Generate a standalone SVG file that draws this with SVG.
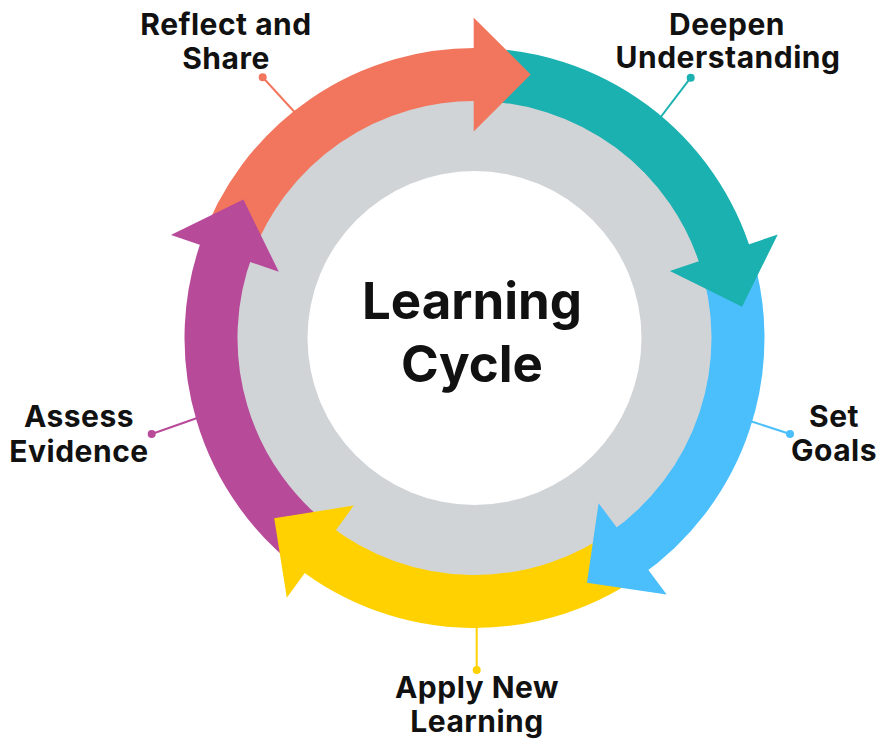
<svg xmlns="http://www.w3.org/2000/svg" width="888" height="753" viewBox="0 0 888 753">
<style>
.lbl{font-family:Inter,"Open Sans","Liberation Sans",sans-serif;font-weight:700;font-size:30px;letter-spacing:0.5px;fill:#111;text-anchor:middle}
.title{font-family:Inter,"Open Sans","Liberation Sans",sans-serif;font-weight:700;font-size:51px;fill:#111;text-anchor:middle}
.shaft{fill:none;stroke-width:53;stroke-linecap:butt}
.head{stroke-width:1.6;stroke-linejoin:miter}
.lead{stroke-width:2;fill:none}
</style>
<rect width="888" height="753" fill="#ffffff"/>
<g id="hub">
<circle cx="474.5" cy="338" r="240" fill="#D1D4D7"/>
<circle cx="474.5" cy="338" r="167" fill="#ffffff"/>
<text class="title" x="472" y="319">Learning</text>
<text class="title" x="472" y="382">Cycle</text>
</g>
<g id="connectors">
<line class="lead" x1="262.7" y1="77.3" x2="300" y2="118" stroke="#F1765D"/>
<circle cx="262.7" cy="77.3" r="4" fill="#F1765D"/>
<line class="lead" x1="690.7" y1="77.7" x2="660" y2="118" stroke="#1BB1B0"/>
<circle cx="690.7" cy="77.7" r="4" fill="#1BB1B0"/>
<line class="lead" x1="790" y1="434" x2="750" y2="421" stroke="#4BBFFB"/>
<circle cx="790" cy="434" r="4" fill="#4BBFFB"/>
<line class="lead" x1="476.7" y1="670" x2="476.7" y2="624" stroke="#FFD100"/>
<circle cx="476.7" cy="670" r="4" fill="#FFD100"/>
<line class="lead" x1="151.7" y1="434" x2="200" y2="417" stroke="#B84A9A"/>
<circle cx="151.7" cy="434" r="4" fill="#B84A9A"/>
</g>
<g id="reflect-and-share">
<path class="shaft" stroke="#F1765D" d="M225.21 252.65A263.5 263.5 0 0 1 483.70 74.66"/>
</g>
<g id="deepen-understanding">
<path class="shaft" stroke="#1BB1B0" d="M474.5 74.5A263.5 263.5 0 0 1 726.89 262.28"/>
</g>
<g id="set-goals">
<path class="shaft" stroke="#4BBFFB" d="M724.09 253.52A263.5 263.5 0 0 1 624.51 554.63"/>
</g>
<g id="apply-new-learning">
<path class="shaft" stroke="#FFD100" d="M631.98 549.27A263.5 263.5 0 0 1 312.27 545.64"/>
</g>
<g id="assess-evidence">
<path class="shaft" stroke="#B84A9A" d="M319.62 551.18A263.5 263.5 0 0 1 228.34 244.0"/>
</g>
<g id="arrowheads">
<polygon class="head" fill="#F1765D" stroke="#F1765D" points="474.5,19.5 529.5,74.5 474.5,129.5"/>
<polygon class="head" fill="#1BB1B0" stroke="#1BB1B0" points="776.19,235.89 741.72,305.62 671.99,271.15"/>
<polygon class="head" fill="#4BBFFB" stroke="#4BBFFB" points="664.85,593.37 587.88,582.14 599.11,505.17"/>
<polygon class="head" fill="#FFD100" stroke="#FFD100" points="287.29,595.68 275.12,518.85 351.95,506.68"/>
<polygon class="head" fill="#B84A9A" stroke="#B84A9A" points="173.18,234.83 243.03,200.62 277.24,270.47"/>
</g>
<g id="labels">
<text class="lbl" x="226" y="35">Reflect and</text>
<text class="lbl" x="226" y="69">Share</text>
<text class="lbl" x="727" y="35">Deepen</text>
<text class="lbl" x="728" y="68">Understanding</text>
<text class="lbl" x="834" y="427">Set</text>
<text class="lbl" x="834" y="461">Goals</text>
<text class="lbl" x="477" y="698">Apply New</text>
<text class="lbl" x="477" y="732">Learning</text>
<text class="lbl" x="79" y="427">Assess</text>
<text class="lbl" x="79" y="462">Evidence</text>
</g>
</svg>
